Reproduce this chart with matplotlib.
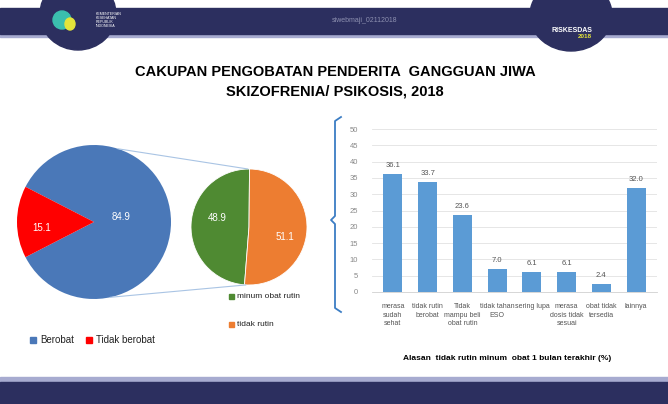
import numpy as np
import matplotlib.pyplot as plt
from matplotlib.patches import Rectangle, Ellipse, ConnectionPatch

# data
main_labels = ['Berobat', 'Tidak berobat']
main_values = [84.9, 15.1]
sub_labels = ['minum obat rutin', 'tidak rutin']
sub_values = [48.9, 51.1]
bar_labels = ['merasa\nsudah\nsehat', 'tidak rutin\nberobat', 'Tidak\nmampu beli\nobat rutin',
              'tidak tahan\nESO', 'sering lupa', 'merasa\ndosis tidak\nsesuai',
              'obat tidak\ntersedia', 'lainnya']
bar_values = [36.1, 33.7, 23.6, 7.0, 6.1, 6.1, 2.4, 32.0]

W, H = 668, 404
plt.rcParams['font.family'] = ['Liberation Sans', 'DejaVu Sans']
fig = plt.figure(figsize=(W / 100, H / 100), dpi=100)
fig.patch.set_facecolor('white')


def px_axes(x0, y0, w, h, **kw):
    # axes from pixel box (top-left origin)
    return fig.add_axes([x0 / W, 1 - (y0 + h) / H, w / W, h / H], **kw)


# slide background decoration
bg = px_axes(0, 0, W, H)
bg.set_xlim(0, W)
bg.set_ylim(H, 0)
bg.axis('off')
navy = '#2c2f5f'
bg.add_patch(Rectangle((0, 33), W, 4, color='#a7abd0'))
bg.add_patch(Rectangle((0, 8), W, 26, color=navy))
bg.add_patch(Ellipse((78, 14), 76, 72, color=navy))
bg.add_patch(Ellipse((571, 15), 82, 72, color=navy))
bg.text(365, 21, 'siwebmaji_02112018', color='#8d90b0', fontsize=5, ha='center', va='center')
bg.text(96, 20, 'KEMENTERIAN\nKESEHATAN\nREPUBLIK\nINDONESIA', color='white', fontsize=2.6,
        ha='left', va='center', linespacing=1.1)
bg.add_patch(Ellipse((62, 20), 18, 18, color='#3bbfae'))
bg.add_patch(Ellipse((70, 24), 10, 12, color='#e4e43a'))
bg.text(572, 30, 'RISKESDAS', color='white', fontsize=5, ha='center', va='center', fontweight='bold')
bg.text(585, 37, '2018', color='#e4e43a', fontsize=4.5, ha='center', va='center', fontweight='bold')
bg.add_patch(Rectangle((0, 377), W, 6, color='#a7abd0'))
bg.add_patch(Rectangle((0, 382), W, 22, color=navy))

bg.text(335, 72, 'CAKUPAN PENGOBATAN PENDERITA  GANGGUAN JIWA', fontsize=10.5,
        fontweight='bold', ha='center', va='center', color='black')
bg.text(335, 92, 'SKIZOFRENIA/ PSIKOSIS, 2018', fontsize=10.5,
        fontweight='bold', ha='center', va='center', color='black')

# main pie, red slice centred on the left
r1 = 77
ax1 = px_axes(94 - r1, 222 - r1, 2 * r1, 2 * r1)
ax1.pie(main_values, colors=['#4a78b8', '#ff0000'],
        startangle=180 + 360 * main_values[1] / 200, radius=1)
ax1.set_xlim(-1, 1)
ax1.set_ylim(-1, 1)
ax1.text(0.35, 0.07, f'{main_values[0]:.1f}', color='white', fontsize=7, ha='center', va='center')
ax1.text(-0.68, -0.08, f'{main_values[1]:.1f}', color='white', fontsize=7, ha='center', va='center')

# sub pie
r2 = 58
ax2 = px_axes(249 - r2, 227 - r2, 2 * r2, 2 * r2)
ax2.pie(sub_values, colors=['#4f8a32', '#ed7d31'], startangle=89.5,
        wedgeprops=dict(edgecolor='white', linewidth=0.6))
ax2.set_xlim(-1, 1)
ax2.set_ylim(-1, 1)
ax2.text(-0.55, 0.15, f'{sub_values[0]:.1f}', color='white', fontsize=7, ha='center', va='center')
ax2.text(0.62, -0.18, f'{sub_values[1]:.1f}', color='white', fontsize=7, ha='center', va='center')

# lines joining the pies
for a1, a2 in [(72, 91), (-78, -93)]:
    p1 = (np.cos(np.radians(a1)), np.sin(np.radians(a1)))
    p2 = (np.cos(np.radians(a2)), np.sin(np.radians(a2)))
    cp = ConnectionPatch(p1, p2, coordsA='data', coordsB='data', axesA=ax1, axesB=ax2,
                         color='#a9c4e4', linewidth=0.8)
    fig.add_artist(cp)

# legends
bg.add_patch(Rectangle((30, 337), 6, 6, color='#4a78b8'))
bg.text(40, 340, main_labels[0], fontsize=7, va='center', color='#222222')
bg.add_patch(Rectangle((86, 337), 6, 6, color='#ff0000'))
bg.text(96, 340, main_labels[1], fontsize=7, va='center', color='#222222')
bg.add_patch(Rectangle((229, 294), 5, 5, color='#4f8a32'))
bg.text(237, 296.5, sub_labels[0], fontsize=6, va='center', color='#222222')
bg.add_patch(Rectangle((229, 322), 5, 5, color='#ed7d31'))
bg.text(237, 324.5, sub_labels[1], fontsize=6, va='center', color='#222222')

# brace
bg.plot([341, 335, 335, 331, 335, 335, 341], [117, 121, 216, 220, 224, 308, 312],
        color='#3b7dc4', linewidth=1.3)

# bar chart
ax3 = px_axes(372, 129, 285, 163)
x = np.arange(len(bar_values))
bars = ax3.bar(x, bar_values, width=0.55, color='#5b9bd5', zorder=3)
ax3.set_ylim(0, 50)
ax3.set_xlim(-0.6, len(bar_values) - 0.4)
ax3.set_yticks(np.arange(0, 51, 5))
ax3.grid(axis='y', color='#e2e2e2', linewidth=0.6, zorder=0)
for s in ['top', 'right', 'left']:
    ax3.spines[s].set_visible(False)
ax3.spines['bottom'].set_color('#d0d0d0')
ax3.spines['bottom'].set_linewidth(0.6)
ax3.tick_params(axis='y', length=0, labelsize=5.5, labelcolor='#888888', pad=10)
ax3.tick_params(axis='x', length=0, labelsize=5, labelcolor='#555555', pad=8)
ax3.set_xticks(x)
ax3.set_xticklabels(bar_labels, linespacing=1.3)
for b, v in zip(bars, bar_values):
    ax3.text(b.get_x() + b.get_width() / 2, v + 1.5, f'{v:.1f}', ha='center', va='bottom',
             fontsize=5.5, color='#555555')
ax3.set_facecolor('none')

bg.text(507, 358, 'Alasan  tidak rutin minum  obat 1 bulan terakhir (%)', fontsize=6,
        fontweight='bold', ha='center', va='center', color='black')

fig.savefig('out.png', dpi=100)
